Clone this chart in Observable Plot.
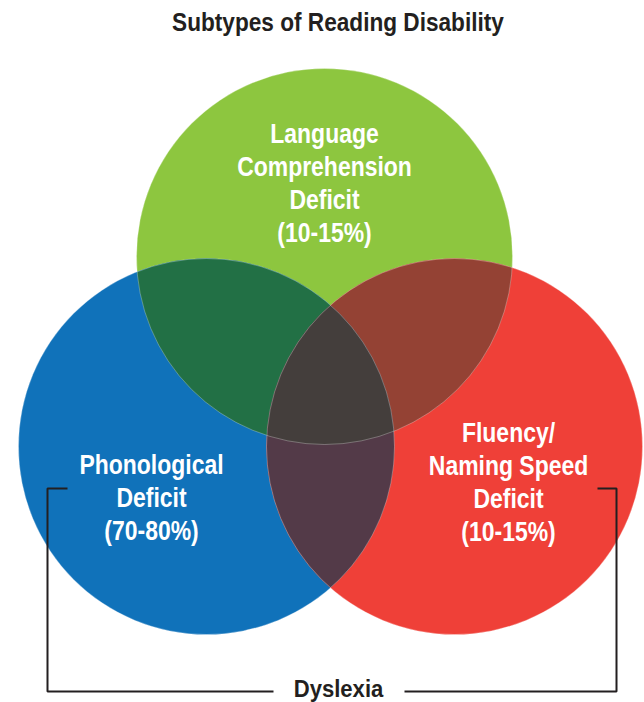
<!DOCTYPE html>
<html>
<head>
<meta charset="utf-8">
<script src="https://cdn.jsdelivr.net/npm/d3@7"></script>
<script src="https://cdn.jsdelivr.net/npm/@observablehq/plot@0.6"></script>
<style>
  html, body { margin: 0; padding: 0; background: #fff; }
  #wrap { width: 644px; }
  #title { position: relative; height: 44px; }
  #title span {
    position: absolute; left: 338px; top: 9px; transform: translateX(-50%) scaleX(0.87);
    white-space: nowrap; font: bold 26px/26px "Liberation Sans", Arial, sans-serif;
    color: #231f20;
  }
  svg text { font-family: "Liberation Sans", Arial, sans-serif; }
</style>
</head>
<body>
<div id="wrap">
  <div id="title"><span>Subtypes of Reading Disability</span></div>
  <div id="chart"></div>
</div>
<script>
// ---- data ----
const subtypes = ["Language Comprehension Deficit", "Phonological Deficit", "Fluency/Naming Speed Deficit"];
const shares = ["10-15%", "70-80%", "10-15%"];
const labelLines = [
  ["Language", "Comprehension", "Deficit"],
  ["Phonological", "Deficit"],
  ["Fluency/", "Naming Speed", "Deficit"]
];
const centerX = [324, 206, 454];
const centerY = [256, 446, 446];
const labelX = [324, 151, 508];
const labelY = [119, 450, 418];
const circleColors = ["#8dc63f", "#1072ba", "#ef4038"];
const pairs = [[0, 1], [0, 2], [1, 2]];
const pairColors = ["#227045", "#944234", "#533a48"];
const tripleColor = "#443e3c";
const groupLabel = "Dyslexia";
const bracketLeft = [[67, 488], [47, 488], [47, 691], [273, 691]];
const bracketRight = [[404, 691], [616, 691], [616, 488], [597, 488]];

// ---- tables ----
const circles = subtypes.map((name, i) => ({name, x: centerX[i], y: centerY[i], color: circleColors[i]}));
const lenses = pairs.map(([a, b], i) => ({a, b, x: centerX[b], y: centerY[b], color: pairColors[i]}));
const triple = [{x: centerX[2], y: centerY[2], color: tripleColor}];
const labels = subtypes.map((name, i) => ({
  text: labelLines[i].join("\n") + "\n(" + shares[i] + ")",
  x: labelX[i], y: labelY[i]
}));
const brackets = [
  ...bracketLeft.map(([x, y]) => ({x, y, side: "left"})),
  ...bracketRight.map(([x, y]) => ({x, y, side: "right"}))
];

const R = 188;
const plot = Plot.plot({
  width: 644,
  height: 658,
  margin: 0,
  x: {domain: [0, 644], range: [0, 644], axis: null},
  y: {domain: [44, 702], range: [0, 658], axis: null},
  style: {background: "#fff", overflow: "visible"},
  marks: [
    Plot.dot(circles, {x: "x", y: "y", r: R, fill: "color", stroke: "none"}),
    Plot.dot(lenses, {x: "x", y: "y", r: R, fill: "color", stroke: "none"}),
    Plot.dot(triple, {x: "x", y: "y", r: R, fill: "color", stroke: "none"}),
    Plot.dot(circles, {x: "x", y: "y", r: R, fill: "none", stroke: "#ffffff", strokeOpacity: 0.4, strokeWidth: 0.7}),
    Plot.text(labels, {x: "x", y: "y", text: "text", fill: "white", fontSize: 27, fontWeight: "bold", lineAnchor: "top", lineHeight: 1.22, textAnchor: "middle"}),
    Plot.line(brackets, {x: "x", y: "y", z: "side", stroke: "#231f20", strokeWidth: 2, strokeLinejoin: "miter", strokeLinecap: "butt"}),
    Plot.text([groupLabel], {x: 338, y: 680, text: d => d, fill: "#231f20", fontSize: 23, fontWeight: "bold", lineAnchor: "top", textAnchor: "middle"})
  ]
});
document.getElementById("chart").appendChild(plot);

// ---- clip overlaps to the lens shapes ----
const ns = "http://www.w3.org/2000/svg";
const defs = document.createElementNS(ns, "defs");
plot.insertBefore(defs, plot.firstChild);
const dotGroups = plot.querySelectorAll(':scope > g[aria-label="dot"]');
const base = dotGroups[0].querySelectorAll("circle");
base.forEach((c, i) => {
  const cp = document.createElementNS(ns, "clipPath");
  cp.setAttribute("id", "clip-c" + i);
  cp.appendChild(c.cloneNode());
  defs.appendChild(cp);
});
dotGroups[1].querySelectorAll("circle").forEach((c, i) => {
  c.setAttribute("clip-path", `url(#clip-c${lenses[i].a})`);
});
const cp01 = document.createElementNS(ns, "clipPath");
cp01.setAttribute("id", "clip-l01");
const k1 = base[1].cloneNode();
k1.setAttribute("clip-path", "url(#clip-c0)");
cp01.appendChild(k1);
defs.appendChild(cp01);
dotGroups[2].querySelectorAll("circle").forEach(c => c.setAttribute("clip-path", "url(#clip-l01)"));

// ---- condensed lettering (like the reference's narrow bold face) ----
const textGroups = plot.querySelectorAll(':scope > g[aria-label="text"]');
function condense(group, k) {
  group.querySelectorAll("text").forEach(t => {
    const spans = t.querySelectorAll("tspan");
    const items = spans.length ? Array.from(spans) : [t];
    items.forEach(el => {
      const len = el.getComputedTextLength();
      el.setAttribute("textLength", (len * k).toFixed(1));
      el.setAttribute("lengthAdjust", "spacingAndGlyphs");
    });
  });
}
condense(textGroups[0], 0.85);
condense(textGroups[1], 0.96);
</script>
</body>
</html>
